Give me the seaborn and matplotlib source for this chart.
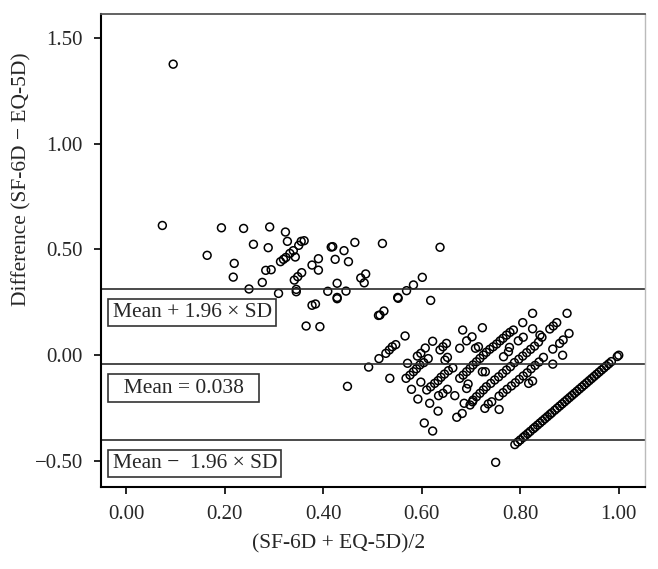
import numpy as np
import pandas as pd
import matplotlib
matplotlib.use("Agg")
import matplotlib.pyplot as plt
import seaborn as sns

# Bland-Altman values
# x: mean of SF-6D and EQ-5D, y: difference SF-6D - EQ-5D
upper_x = [0.095, 0.073, 0.164, 0.193, 0.238, 0.291, 0.323, 0.327, 0.258, 0.288,
           0.219, 0.217, 0.249, 0.276, 0.283, 0.294, 0.309, 0.313, 0.319, 0.324,
           0.332, 0.339, 0.350, 0.355, 0.361, 0.343, 0.341, 0.348, 0.356, 0.345,
           0.345, 0.377, 0.390, 0.390, 0.416, 0.419, 0.424, 0.442, 0.451, 0.464,
           0.428, 0.409, 0.446, 0.428, 0.476, 0.486, 0.483, 0.520, 0.551, 0.637,
           0.377, 0.384, 0.365, 0.393, 0.512, 0.515, 0.523, 0.552, 0.569, 0.583,
           0.601, 0.618, 0.428]
upper_y = [1.375, 0.613, 0.472, 0.602, 0.599, 0.606, 0.582, 0.538, 0.524, 0.508,
           0.434, 0.369, 0.313, 0.344, 0.401, 0.404, 0.292, 0.442, 0.453, 0.462,
           0.481, 0.494, 0.519, 0.538, 0.541, 0.464, 0.355, 0.371, 0.390, 0.311,
           0.300, 0.426, 0.456, 0.402, 0.511, 0.513, 0.453, 0.494, 0.442, 0.533,
           0.340, 0.302, 0.303, 0.273, 0.365, 0.384, 0.342, 0.528, 0.273, 0.510,
           0.236, 0.242, 0.138, 0.135, 0.188, 0.190, 0.209, 0.269, 0.305, 0.332,
           0.368, 0.259, 0.267]

mid_x = [0.492, 0.449, 0.513, 0.527, 0.534, 0.540, 0.547, 0.535, 0.566, 0.571,
         0.568, 0.576, 0.583, 0.589, 0.596, 0.604, 0.613, 0.591, 0.598, 0.607,
         0.622, 0.579, 0.598, 0.592, 0.605, 0.622, 0.616, 0.633,
         0.610, 0.618, 0.626, 0.633, 0.639, 0.646, 0.654, 0.663,
         0.634, 0.643, 0.652, 0.667, 0.671, 0.682, 0.686, 0.698, 0.703,
         0.637, 0.643, 0.650, 0.647, 0.652, 0.683, 0.677, 0.691, 0.702, 0.723,
         0.709, 0.715, 0.691, 0.694, 0.723, 0.729]
mid_y = [-0.056, -0.147, -0.016, 0.009, 0.025, 0.040, 0.050, -0.109, 0.091, -0.038,
         -0.109, -0.094, -0.078, -0.064, -0.046, -0.035, -0.016, -0.004, 0.009, 0.034,
         0.066, -0.161, -0.127, -0.207, -0.320, -0.358, -0.227, -0.264,
         -0.164, -0.149, -0.133, -0.120, -0.104, -0.089, -0.073, -0.060,
         -0.191, -0.180, -0.161, -0.191, -0.293, -0.275, -0.227, -0.235, -0.220,
         0.025, 0.040, 0.056, -0.023, -0.010, 0.119, 0.033, 0.068, 0.087, 0.130,
         0.033, 0.040, -0.157, -0.136, -0.078, -0.078]

band_x = [0.677, 0.684, 0.691, 0.698, 0.704, 0.711, 0.718, 0.725, 0.731, 0.738,
          0.745, 0.752, 0.759, 0.765, 0.772, 0.779, 0.786,
          0.704, 0.711, 0.718, 0.725, 0.731, 0.740, 0.748, 0.756, 0.764, 0.772,
          0.780, 0.788, 0.797, 0.805, 0.813, 0.821, 0.829, 0.837, 0.844,
          0.728, 0.735, 0.742, 0.757, 0.765, 0.773, 0.782, 0.790, 0.798, 0.806,
          0.814, 0.822, 0.830, 0.838, 0.847,
          0.757, 0.817, 0.825, 0.805, 0.825, 0.825, 0.860, 0.867, 0.874, 0.895,
          0.899, 0.880, 0.887, 0.866, 0.886, 0.866, 0.778, 0.766, 0.776, 0.796,
          0.806, 0.840, 0.750]
band_y = [-0.109, -0.094, -0.078, -0.062, -0.046, -0.031, -0.015, 0.001, 0.014, 0.028,
          0.040, 0.053, 0.068, 0.080, 0.095, 0.108, 0.119,
          -0.212, -0.196, -0.180, -0.164, -0.149, -0.133, -0.117, -0.102, -0.086, -0.070,
          -0.054, -0.035, -0.019, -0.004, 0.012, 0.028, 0.043, 0.062, 0.085,
          -0.251, -0.230, -0.220, -0.193, -0.177, -0.161, -0.145, -0.130, -0.114, -0.098,
          -0.083, -0.064, -0.048, -0.032, -0.010,
          -0.256, -0.133, -0.122, 0.154, 0.198, 0.125, 0.124, 0.138, 0.154, 0.198,
          0.103, 0.056, 0.072, 0.029, 0.000, -0.042, 0.037, -0.007, 0.017, 0.068,
          0.085, 0.095, -0.506]

# EQ-5D = 1.00 respondents (lower right diagonal)
full_x = [0.789, 0.795, 0.800, 0.806, 0.810, 0.815, 0.820, 0.826, 0.830, 0.835,
          0.840, 0.845, 0.850, 0.855, 0.860, 0.864, 0.870, 0.875, 0.880, 0.885,
          0.890, 0.895, 0.900, 0.905, 0.910, 0.915, 0.920, 0.925, 0.930, 0.935,
          0.940, 0.945, 0.950, 0.955, 0.960, 0.965, 0.970, 0.975, 0.980, 0.985,
          0.997, 1.000]
full_y = [-0.422, -0.410, -0.400, -0.388, -0.380, -0.370, -0.360, -0.348, -0.340, -0.330,
          -0.320, -0.310, -0.300, -0.290, -0.280, -0.272, -0.260, -0.250, -0.240, -0.230,
          -0.220, -0.210, -0.200, -0.190, -0.180, -0.170, -0.160, -0.150, -0.140, -0.130,
          -0.120, -0.110, -0.100, -0.090, -0.080, -0.070, -0.060, -0.050, -0.040, -0.030,
          -0.006, 0.000]

mean_diff = -0.042
limit_half = 0.357
x_ticks = [0.0, 0.2, 0.4, 0.6, 0.8, 1.0]
y_ticks = [-0.5, 0.0, 0.5, 1.0, 1.5]
box_labels = ["Mean + 1.96 \u00d7 SD", "  Mean = 0.038  ", "Mean \u2212  1.96 \u00d7 SD"]

df = pd.DataFrame({
    "avg": upper_x + mid_x + band_x + full_x,
    "diff": upper_y + mid_y + band_y + full_y,
})

sns.set_theme(style="ticks")
plt.rcParams["font.family"] = ["Liberation Serif", "DejaVu Serif"]

fig = plt.figure(figsize=(6.58, 5.69), dpi=100)
ax = fig.add_axes([0.1535, 0.1441, 0.8265, 0.8313])

sns.scatterplot(data=df, x="avg", y="diff", ax=ax, marker="o", s=32,
                facecolors="none", edgecolor="black", linewidth=1.1, legend=False)

lines = [mean_diff + limit_half, mean_diff, mean_diff - limit_half]
for val, lab in zip(lines, box_labels):
    ax.axhline(val, color="#2b2b2b", lw=1.2, zorder=1)
    ax.text(-0.028, val - 0.113, lab, fontsize=15.5, ha="left", va="center",
            bbox=dict(boxstyle="square,pad=0.2", fc="white", ec="#333333", lw=1.2))

ax.set_xlim(-0.0516, 1.053)
ax.set_ylim(-0.6225, 1.612)
ax.set_xticks(x_ticks)
ax.set_yticks(y_ticks)
ax.set_xticklabels([f"{t:.2f}" for t in x_ticks])
ax.set_yticklabels([f"{t:.2f}".replace("-", "\u2212") for t in y_ticks])
ax.tick_params(axis="both", labelsize=15, length=5, width=1.2, color="black")
ax.tick_params(axis="y", pad=8)
ax.tick_params(axis="x", pad=8)
ax.set_xlabel("(SF-6D + EQ-5D)/2", fontsize=15.5)
ax.set_ylabel("Difference (SF-6D \u2212 EQ-5D)", fontsize=15.5)
ax.xaxis.set_label_coords(0.436, -0.1)
ax.yaxis.set_label_coords(-0.128, 0.65)

for side in ["left", "bottom"]:
    ax.spines[side].set_color("black")
    ax.spines[side].set_linewidth(1.5)
ax.spines["top"].set_color("#555555")
ax.spines["top"].set_linewidth(1.3)
ax.spines["right"].set_color("#bbbbbb")
ax.spines["right"].set_linewidth(1.0)

fig.savefig("out.png", dpi=100)
